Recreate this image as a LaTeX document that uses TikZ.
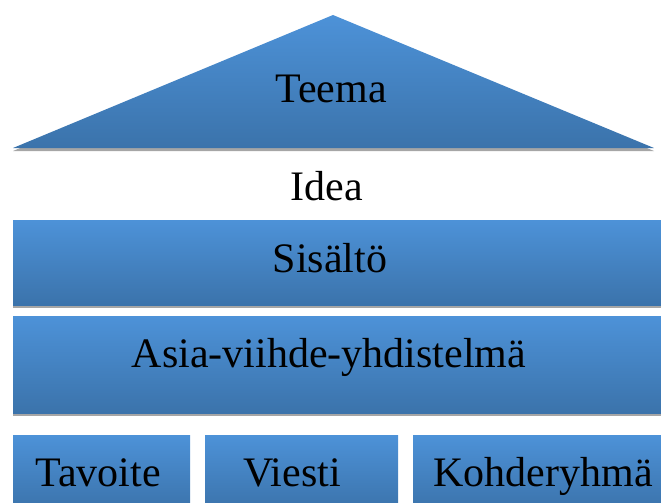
\documentclass[tikz,border=0pt]{standalone}
\usepackage{fontspec}
\setmainfont{Liberation Serif}
\usetikzlibrary{shadows}
\definecolor{btop}{HTML}{4D92D8}
\definecolor{bbot}{HTML}{3B73AB}
\tikzset{
  shade3d/.style={top color=btop, bottom color=bbot, draw=none,
    drop shadow={shadow xshift=0pt, shadow yshift=-3pt, fill=black, opacity=.35}},
  lbl/.style={font=\fontsize{42}{46}\selectfont, text=black, anchor=base, inner sep=0pt}
}
\begin{document}
\begin{tikzpicture}[x=1pt,y=-1pt]
\useasboundingbox (0,0) rectangle (661,503);
\clip (0,0) rectangle (661,503);
% triangle
\path[shade3d] (13,148) -- (333,15) -- (654,148) -- cycle;
\node[lbl] (teema) at (331,102) {Teema};
\node[lbl] (idea) at (327,200) {Idea};
% wide boxes
\path[shade3d] (13,220) rectangle (668,305);
\node[lbl] (sisalto) at (330,272) {Sisältö};
\path[shade3d] (13,316) rectangle (668,413);
\node[lbl] (asia) at (329,367) {Asia-viihde-yhdistelmä};
% bottom boxes
\path[shade3d] (13,435) rectangle (190,510);
\node[lbl] (tavoite) at (98,486) {Tavoite};
\path[shade3d] (205,435) rectangle (398,510);
\node[lbl] (viesti) at (292,486) {Viesti};
\path[shade3d] (413,435) rectangle (668,510);
\node[lbl] (kohde) at (543,486) {Kohderyhmä};
\end{tikzpicture}
\end{document}
